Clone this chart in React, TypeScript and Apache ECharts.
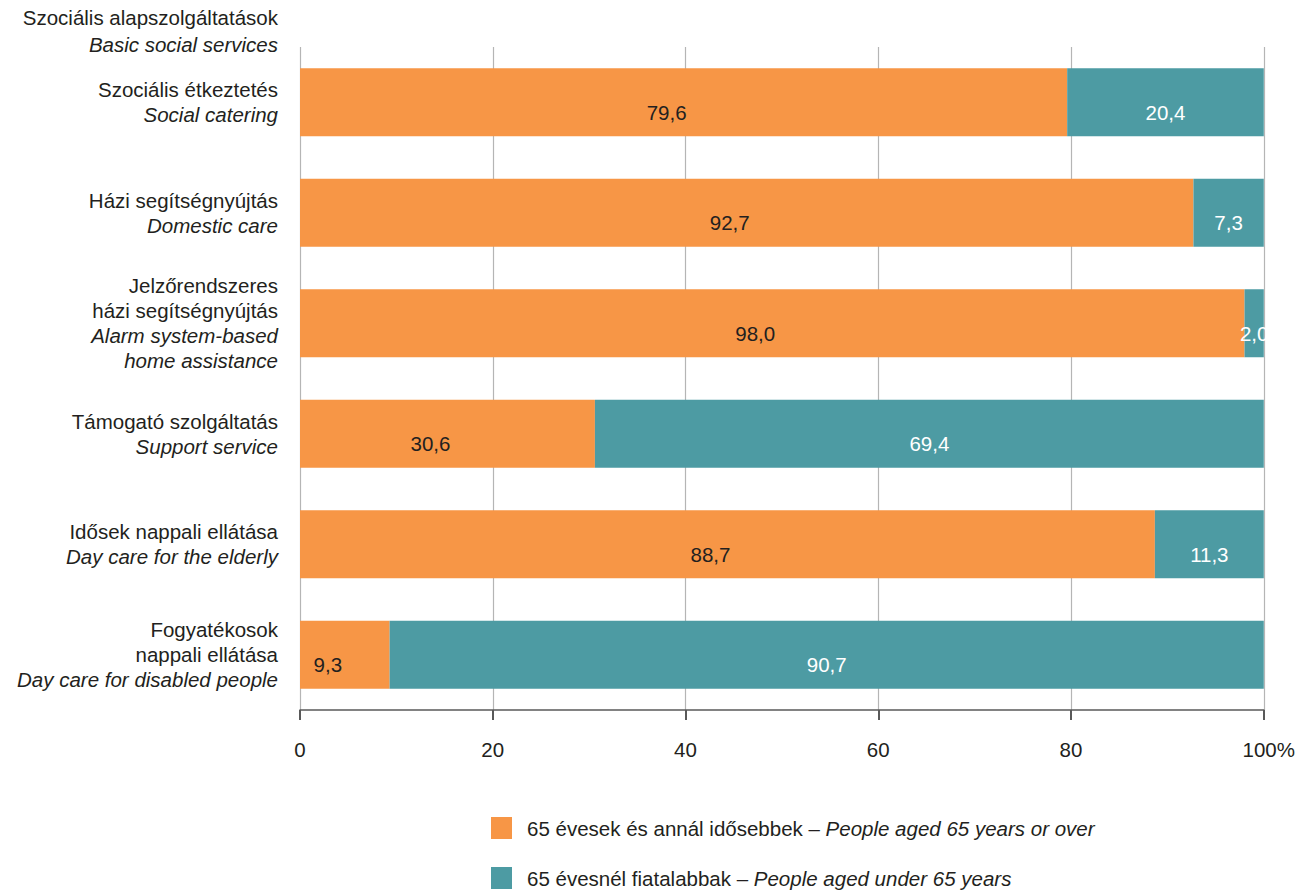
import React, { useEffect, useRef } from "react";
import * as echarts from "echarts";

const huCategories = [
  "Szociális étkeztetés",
  "Házi segítségnyújtás",
  "Jelzőrendszeres\nházi segítségnyújtás",
  "Támogató szolgáltatás",
  "Idősek nappali ellátása",
  "Fogyatékosok\nnappali ellátása",
];
const enCategories = [
  "Social catering",
  "Domestic care",
  "Alarm system-based\nhome assistance",
  "Support service",
  "Day care for the elderly",
  "Day care for disabled people",
];
const olderValues = [79.6, 92.7, 98.0, 30.6, 88.7, 9.3];
const youngerValues = [20.4, 7.3, 2.0, 69.4, 11.3, 90.7];
const xTicks = [0, 20, 40, 60, 80, 100];
const seriesHu = ["65 évesek és annál idősebbek", "65 évesnél fiatalabbak"];
const seriesEn = ["People aged 65 years or over", "People aged under 65 years"];
const headerHu = "Szociális alapszolgáltatások";
const headerEn = "Basic social services";

const FONT = "'Liberation Sans', Arial, Helvetica, sans-serif";
const TEXT = "#231f20";
const ORANGE = "#F79646";
const TEAL = "#4D9BA3";
const FS = 20.5;

const fmt = (v: number) => v.toFixed(1).replace(".", ",");

export default function App() {
  const ref = useRef<HTMLDivElement>(null);
  useEffect(() => {
    if (!ref.current) return;
    const chart = echarts.init(ref.current, undefined, { renderer: "svg" });
    const legendNames = seriesHu.map((h, i) => h + " – " + seriesEn[i]);
    chart.setOption({
      animation: false,
      textStyle: { fontFamily: FONT },
      grid: { left: 300, right: 27, top: 47, bottom: 181, containLabel: false },
      xAxis: {
        type: "value",
        min: xTicks[0],
        max: xTicks[xTicks.length - 1],
        interval: 20,
        axisLine: { show: true, lineStyle: { color: "#595959", width: 1.5 } },
        axisTick: { show: true, length: 10, lineStyle: { color: "#595959", width: 2 } },
        splitLine: { show: true, lineStyle: { color: "#b5b5b5", width: 1.2 } },
        axisLabel: {
          margin: 29,
          fontSize: FS,
          color: TEXT,
          fontFamily: FONT,
          formatter: (v: number) => (v === 100 ? "{p|100%}" : String(v)),
          rich: { p: { fontSize: FS, color: TEXT, fontFamily: FONT, padding: [0, 0, 0, 10] } },
        },
      },
      yAxis: {
        type: "category",
        inverse: true,
        data: huCategories,
        axisLine: { show: false },
        axisTick: { show: false },
        axisLabel: {
          margin: 22,
          formatter: (value: string, index: number) => {
            const hu = value.split("\n").map((l) => `{hu|${l}}`);
            const en = enCategories[index].split("\n").map((l) => `{en|${l}}`);
            return [...hu, ...en].join("\n");
          },
          rich: {
            hu: { fontSize: FS, color: TEXT, fontFamily: FONT, lineHeight: 25, align: "right" },
            en: { fontSize: FS, color: TEXT, fontFamily: FONT, fontStyle: "italic", lineHeight: 25, align: "right" },
          },
        },
      },
      legend: {
        orient: "vertical",
        left: 491,
        top: 817,
        padding: 0,
        itemWidth: 21,
        itemHeight: 22,
        itemGap: 28,
        icon: "rect",
        data: legendNames,
        formatter: (name: string) => {
          const i = legendNames.indexOf(name);
          return `{a|${seriesHu[i]} – }{b|${seriesEn[i]}}`;
        },
        textStyle: {
          rich: {
            a: { fontSize: FS, color: TEXT, fontFamily: FONT, padding: [0, 0, 0, 10] },
            b: { fontSize: FS, color: TEXT, fontFamily: FONT, fontStyle: "italic" },
          },
        },
      },
      graphic: [
        {
          type: "text",
          right: 1298 - 278,
          top: 7,
          style: { text: headerHu, fontSize: FS, fill: TEXT, fontFamily: FONT, textAlign: "right" },
        },
        {
          type: "text",
          right: 1298 - 278,
          top: 34,
          style: { text: headerEn, fontSize: FS, fill: TEXT, fontFamily: FONT, fontStyle: "italic", textAlign: "right" },
        },
      ],
      series: [
        {
          name: legendNames[0],
          type: "bar",
          stack: "total",
          barWidth: 68,
          itemStyle: { color: ORANGE },
          label: {
            show: true,
            position: "inside",
            offset: [-17, 10],
            fontSize: FS,
            color: TEXT,
            fontFamily: FONT,
            formatter: (p: any) => fmt(p.value),
          },
          data: olderValues,
        },
        {
          name: legendNames[1],
          type: "bar",
          stack: "total",
          barWidth: 68,
          itemStyle: { color: TEAL },
          label: {
            show: true,
            position: "inside",
            offset: [0, 10],
            fontSize: FS,
            color: "#ffffff",
            fontFamily: FONT,
            formatter: (p: any) => fmt(p.value),
          },
          data: youngerValues,
        },
      ],
    });
    return () => chart.dispose();
  }, []);
  return (
    <div
      ref={ref}
      style={{ position: "fixed", left: 0, top: 0, width: 1298, height: 891, background: "#fff" }}
    />
  );
}
